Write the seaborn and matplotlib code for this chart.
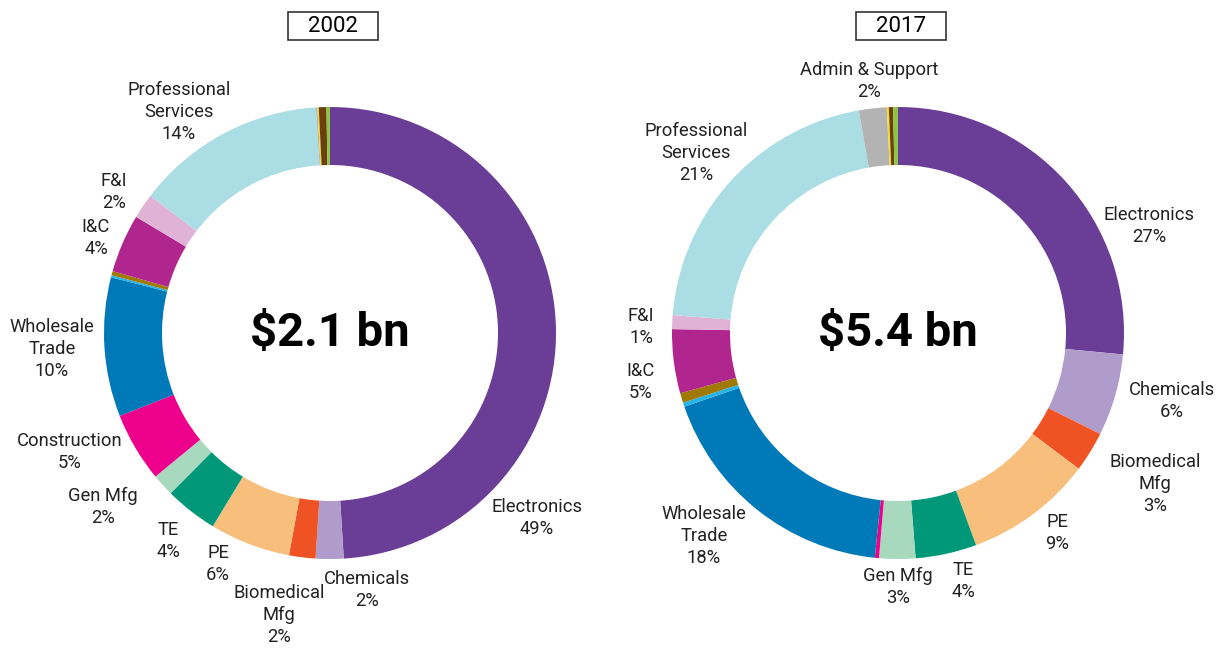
import matplotlib
matplotlib.use("Agg")
import matplotlib.pyplot as plt
from matplotlib.patches import Rectangle
import seaborn as sns

# ==================== DATA ====================
SECTORS = ['Electronics', 'Chemicals', 'Biomedical Mfg', 'PE', 'TE', 'Gen Mfg',
           'Construction', 'Wholesale Trade', 'Other A', 'Other B', 'I&C', 'F&I',
           'Professional Services', 'Admin & Support', 'Other C', 'Other D', 'Other E']
COLORS = ['#6A3D96', '#B09CCB', '#F05323', '#F7BF7B', '#009878', '#A8D9BF',
          '#EC008C', '#0079B8', '#27B4E8', '#A07A00', '#B1268E', '#E0B3D6',
          '#ABDDE4', '#B3B3B3', '#F2DB26', '#6B3F10', '#8CC63F']

SHARE_2002 = [49.3, 2.0, 1.9, 5.8, 3.8, 1.6, 5.0, 10.0, 0.15, 0.3, 4.2, 1.8,
              13.7, 0.1, 0.1, 0.55, 0.25]
SHARE_2017 = [26.7, 5.9, 2.9, 9.2, 4.4, 2.6, 0.3, 18.2, 0.3, 0.7, 4.6, 1.0,
              21.1, 2.0, 0.15, 0.3, 0.35]

TOTALS = ['$2.1 bn', '$5.4 bn']
YEARS = ['2002', '2017']

LABELS_2002 = ['Electronics\n49%', 'Chemicals\n2%', 'Biomedical\nMfg\n2%', 'PE\n6%',
               'TE\n4%', 'Gen Mfg\n2%', 'Construction\n5%', 'Wholesale\nTrade\n10%',
               'I&C\n4%', 'F&I\n2%', 'Professional\nServices\n14%']
LABELS_2017 = ['Electronics\n27%', 'Chemicals\n6%', 'Biomedical\nMfg\n3%', 'PE\n9%',
               'TE\n4%', 'Gen Mfg\n3%', 'Wholesale\nTrade\n18%', 'I&C\n5%', 'F&I\n1%',
               'Professional\nServices\n21%', 'Admin & Support\n2%']

# label anchor positions (pixels from top-left)
POS_2002 = [(537, 518), (367, 590), (279, 615), (218, 564), (168, 541), (103, 507),
            (70, 452), (52, 349), (96, 238), (114, 192), (179, 112)]
POS_2017 = [(1149, 226), (1172, 401), (1155, 484), (1057, 533), (963, 581), (898, 587),
            (704, 536), (641, 382), (641, 327), (696, 153), (869, 81)]

W, H = 1219, 649
CENTERS = [(330, 333), (898, 333)]
R_OUT = 226
R_IN = 168

# ==================== PLOT ====================
sns.set_theme(style='white')
plt.rcParams['font.family'] = ['Roboto', 'DejaVu Sans']

fig = plt.figure(figsize=(W / 100, H / 100), dpi=100)
ax = fig.add_axes([0, 0, 1, 1])

for (cx, cy), shares, total, year, labels, pos in zip(
        CENTERS, [SHARE_2002, SHARE_2017], TOTALS, YEARS,
        [LABELS_2002, LABELS_2017], [POS_2002, POS_2017]):
    ax.pie(shares, colors=COLORS, center=(cx, H - cy), radius=R_OUT,
           startangle=90, counterclock=False, frame=True,
           wedgeprops=dict(width=R_OUT - R_IN, linewidth=0))
    ax.text(cx, H - cy, total, ha='center', va='center', fontsize=34,
            fontweight='bold', color='black')

    # year title in a box
    ax.add_patch(Rectangle((cx - 42, H - 40), 90, 28, fill=False,
                           edgecolor='#333333', linewidth=1.2))
    ax.text(cx + 3, H - 26, year, ha='center', va='center', fontsize=16,
            color='black')

    for lab, (lx, ly) in zip(labels, pos):
        ax.text(lx, H - ly, lab, ha='center', va='center', fontsize=13.2,
                linespacing=1.3, color='#222222')

ax.set_xlim(0, W)
ax.set_ylim(0, H)
ax.set_aspect('auto')
ax.axis('off')

fig.savefig('out.png', dpi=100)
